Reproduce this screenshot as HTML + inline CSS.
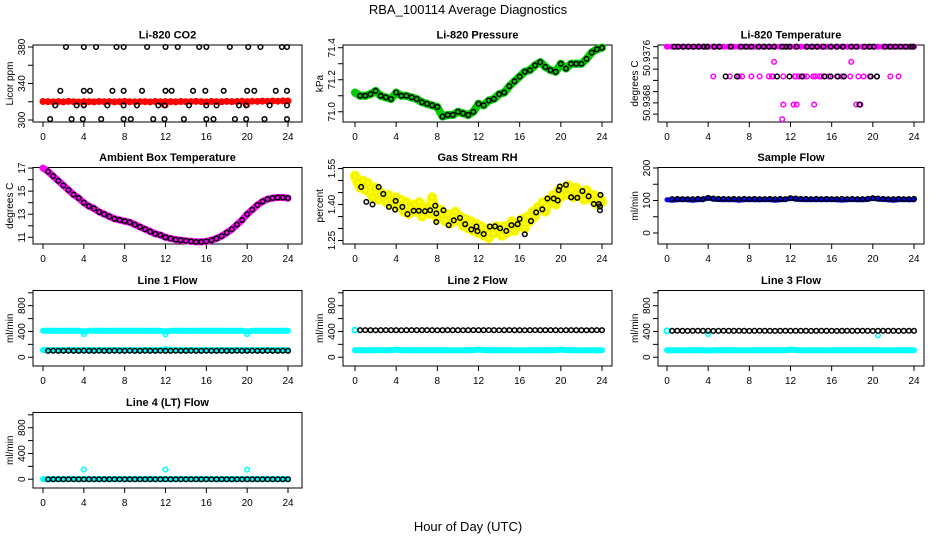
<!DOCTYPE html>
<html><head><meta charset="utf-8"><style>
body{margin:0;background:#fff}
svg{display:block;font-family:"Liberation Sans",sans-serif}
</style></head><body>
<svg id="c" width="936" height="540" viewBox="0 0 936 540">
<text x="468" y="14" text-anchor="middle" font-size="13">RBA_100114  Average Diagnostics</text>
<text x="468" y="531" text-anchor="middle" font-size="13">Hour of Day (UTC)</text>
</svg>
<script>
const H=[0,0.5,1,1.5,2,2.5,3,3.5,4,4.5,5,5.5,6,6.5,7,7.5,8,8.5,9,9.5,10,10.5,11,11.5,12,12.5,13,13.5,14,14.5,15,15.5,16,16.5,17,17.5,18,18.5,19,19.5,20,20.5,21,21.5,22,22.5,23,23.5,24];
const xTicks=[0,4,8,12,16,20,24];
// CO2
const co2Red=[320.3,320.1,319.8,320.2,319.9,320.4,320.0,319.7,320.2,320.1,319.9,320.3,320.0,320.2,319.8,320.1,320.4,320.0,319.9,320.2,320.1,319.8,320.3,320.0,320.2,320.1,319.9,320.3,320.0,320.2,320.4,320.1,319.9,320.3,320.2,320.0,320.4,320.1,320.3,320.5,320.2,320.6,320.4,320.7,320.5,320.8,320.6,321.0,320.8];
const co2RedOutH=[4,12,20];
const co2RedOutV=[316.5,316,316.5];
const co2BlkH=[2.25,4.0,5.2,7.2,7.9,10.2,12.0,13.2,15.3,16.0,18.3,20.1,21.3,23.4,23.9, 1.7,4,4.6,6.8,7.9,9.7,12,12.6,14.7,15.9,17.7,20,20.7,22.8,23.9, 1.2,3.3,4,6.3,7.9,9.2,11.3,11.9,14.3,16,17,19.2,19.9,22.2,23.9, 0.7,2.8,3.9,5.7,7.9,8.6,10.8,11.9,13.8,16,16.7,18.8,19.9,21.7,23.9];
const co2BlkV=[380,380,380,380,380,380,380,380,380,380,380,380,380,380,380, 332,332,332,332,332,332,332,332,332,332,332,332,332,332,332, 316,316,316,316,316,316,316,316,316,316,316,316,316,316,316, 301,301,301,301,301,301,301,301,301,301,301,301,301,301,301];
// Pressure
const pres=[71.12,71.10,71.10,71.11,71.13,71.10,71.09,71.08,71.12,71.10,71.10,71.09,71.08,71.06,71.05,71.04,71.03,70.97,70.98,70.98,71.00,70.99,70.98,71.00,71.05,71.04,71.07,71.08,71.11,71.12,71.16,71.19,71.22,71.25,71.26,71.29,71.31,71.28,71.26,71.25,71.30,71.27,71.30,71.30,71.30,71.33,71.37,71.39,71.40];
// Li-820 temperature
const tTopBlkH=[0.7,1.1,1.6,2.1,2.6,3.1,3.6,3.9,4.6,5.1,6.2,7.2,7.7,8.2,8.9,9.4,9.9,10.4,11.2,11.6,11.9,12.6,13.6,14.1,14.6,15.2,15.9,16.5,17.1,17.9,18.4,19.2,19.7,20.1,21.2,21.7,22.2,22.7,23.2,23.7,23.9];
const tMagH=[4.5,6.1,7.0,7.3,8.2,9.0,9.9,10.2,10.3,11.3,12.4,12.5,12.8,13.3,13.6,14.2,14.4,14.8,15.0,15.7,16.5,17.0,17.8,18.6,19.1,19.7,20.4,21.7,22.5, 10.4,17.9, 11.3,12.3,12.6,14.3,18.4,18.8, 11.2];
const tMagV=[50.93727,50.93727,50.93727,50.93727,50.93727,50.93727,50.93727,50.93727,50.93727,50.93727,50.93727,50.93727,50.93727,50.93727,50.93727,50.93727,50.93727,50.93727,50.93727,50.93727,50.93727,50.93727,50.93727,50.93727,50.93727,50.93727,50.93727,50.93727,50.93727, 50.93753,50.93753, 50.93677,50.93677,50.93677,50.93677,50.93677,50.93677, 50.93651];
const tBlkH=[5.7,6.8,10.7,11.9,13.1,15.3,15.9,16.6,17.2,19.8,20.4,18.7];
const tBlkV=[50.93727,50.93727,50.93727,50.93727,50.93727,50.93727,50.93727,50.93727,50.93727,50.93727,50.93727,50.93677];
// Ambient
const amb=[17,16.7,16.3,15.9,15.5,15.1,14.7,14.4,14.0,13.7,13.5,13.2,13.0,12.8,12.6,12.5,12.4,12.3,12.1,11.9,11.7,11.5,11.3,11.2,11.0,10.9,10.8,10.75,10.7,10.65,10.6,10.6,10.65,10.75,10.9,11.1,11.4,11.7,12.1,12.5,13.0,13.4,13.8,14.1,14.3,14.4,14.45,14.45,14.4];
// Gas RH
const rhYel=[1.52,1.49,1.47,1.50,1.46,1.49,1.45,1.43,1.47,1.42,1.45,1.44,1.41,1.44,1.40,1.42,1.43,1.39,1.42,1.37,1.41,1.36,1.39,1.40,1.37,1.41,1.35,1.38,1.39,1.36,1.43,1.37,1.34,1.38,1.36,1.33,1.36,1.32,1.35,1.37,1.33,1.35,1.31,1.34,1.30,1.33,1.29,1.32,1.28,1.31,1.27,1.30,1.26,1.30,1.28,1.31,1.29,1.27,1.31,1.28,1.30,1.33,1.29,1.32,1.31,1.34,1.30,1.35,1.33,1.37,1.35,1.39,1.38,1.41,1.37,1.42,1.41,1.44,1.40,1.46,1.43,1.47,1.44,1.48,1.46,1.43,1.47,1.44,1.45,1.42,1.46,1.43,1.42,1.44,1.40,1.43,1.41];
const rhYelH=[0,0.25,0.5,0.75,1,1.25,1.5,1.75,2,2.25,2.5,2.75,3,3.25,3.5,3.75,4,4.25,4.5,4.75,5,5.25,5.5,5.75,6,6.25,6.5,6.75,7,7.25,7.5,7.75,8,8.25,8.5,8.75,9,9.25,9.5,9.75,10,10.25,10.5,10.75,11,11.25,11.5,11.75,12,12.25,12.5,12.75,13,13.25,13.5,13.75,14,14.25,14.5,14.75,15,15.25,15.5,15.75,16,16.25,16.5,16.75,17,17.25,17.5,17.75,18,18.25,18.5,18.75,19,19.25,19.5,19.75,20,20.25,20.5,20.75,21,21.25,21.5,21.75,22,22.25,22.5,22.75,23,23.25,23.5,23.75,24];
const rhBlkH=[0.6,1.1,1.7,2.3,2.75,3.3,3.9,3.95,4.6,5.1,5.7,6.2,6.8,7.3,7.8,7.9,7.9,8.6,9.1,9.6,10.2,10.7,11.3,11.8,11.9,12.5,13.1,13.6,14.1,14.7,15.2,15.8,16.0,16.5,17.1,17.6,18.2,18.7,19.3,19.7,19.8,19.9,20.5,21.0,21.6,22.1,22.7,23.2,23.7,23.85,23.8,23.8];
const rhBlkV=[1.473,1.411,1.40,1.473,1.444,1.39,1.379,1.415,1.39,1.36,1.374,1.374,1.372,1.376,1.395,1.327,1.363,1.376,1.314,1.334,1.344,1.318,1.296,1.308,1.289,1.277,1.308,1.309,1.301,1.29,1.314,1.318,1.34,1.276,1.331,1.367,1.38,1.425,1.425,1.417,1.46,1.475,1.482,1.43,1.428,1.456,1.434,1.402,1.402,1.44,1.376,1.392];
// Sample flow
const sampBlue=[102,101,102,103,102,101,102,103,108,104,103,102,103,102,101,102,103,102,102,103,102,101,102,103,107,104,103,102,103,102,103,102,103,102,101,102,103,102,102,103,107,104,103,102,101,102,103,102,102];
const sampBlk=[104,104,105,104,104,104,105,104,108,106,105,105,104,105,104,105,104,105,104,104,105,104,105,104,107,106,105,105,104,105,104,105,104,104,105,104,105,104,104,105,107,106,105,104,104,105,104,104,105];
// Line flows
const l1CyanHi=[410,410,411,410,409,410,411,410,400,410,410,411,410,409,410,411,410,410,410,411,410,409,410,411,400,410,410,411,410,409,410,411,410,410,410,411,410,409,410,411,400,410,410,411,410,409,410,411,410];
const l1CyanLo=[112,112,111,112,112,113,112,111,112,112,111,112,112,113,112,111,112,112,111,112,112,113,112,111,125,112,111,112,112,113,112,111,112,112,111,112,112,113,112,111,112,112,111,112,112,113,112,111,112];
const l1Blk=[100,101,100,100,101,100,100,101,100,100,101,100,100,101,100,100,101,100,100,101,100,100,101,100,100,101,100,100,101,100,100,101,100,100,101,100,100,101,100,100,101,100,100,101,100,100,101,100];
const l1OutH=[4,12,20];
const l1OutV=[360,355,360];
const l2Blk=[420,421,420,419,420,421,420,420,419,420,421,420,420,421,420,419,420,421,420,420,419,420,421,420,420,421,420,419,420,421,420,420,419,420,421,420,420,421,420,419,420,421,420,420,419,420,421,420];
const l2CyanLo=[110,111,110,109,110,111,110,110,118,110,111,110,110,111,110,109,110,111,110,110,109,110,111,110,118,111,110,109,110,111,110,110,109,110,111,110,110,111,110,109,118,111,110,110,109,110,111,110,110];
const l3Blk=[410,411,410,409,410,411,410,410,409,410,411,410,410,411,410,409,410,411,410,410,409,410,411,410,410,411,410,409,410,411,410,410,409,410,411,410,410,411,410,409,410,411,410,410,409,410,411,410];
const l3CyanLo=[110,111,110,109,110,111,110,110,105,110,111,110,110,111,110,109,110,111,110,110,109,110,111,110,118,111,110,109,110,111,110,110,109,110,111,110,110,111,110,109,110,111,110,110,109,110,111,110,110];
const l3OutH=[4,20.5];
const l3OutV=[360,340];
const l4Cyan=[2,1,2,2,1,2,2,1,2,2,1,2,2,1,2,2,1,2,2,1,2,2,1,2,2,1,2,2,1,2,2,1,2,2,1,2,2,1,2,2,1,2,2,1,2,2,1,2,2];
const l4Blk=[0,0,0,0,0,0,0,0,0,0,0,0,0,0,0,0,0,0,0,0,0,0,0,0,0,0,0,0,0,0,0,0,0,0,0,0,0,0,0,0,0,0,0,0,0,0,0,0];
const l4OutH=[4,12,20];
const l4OutV=[150,150,150];

const H2=H.slice(1);
const svg=document.getElementById('c');
const NS='http://www.w3.org/2000/svg';
const COLS=[{l:33,r:302,x0:43,x24:288},{l:343,r:612,x0:355,x24:602},{l:658,r:924,x0:667,x24:914}];
const ROWS=[{t:45,b:122},{t:167.5,b:244},{t:290.5,b:366},{t:412.5,b:488}];
function mk(tag,attrs,parent){const e=document.createElementNS(NS,tag);for(const k in attrs)e.setAttribute(k,attrs[k]);(parent||svg).appendChild(e);return e;}
function panel(name,title,ci,ri,lo,hi,ticks,labels,ytitle){
  const C=COLS[ci],R=ROWS[ri];
  const g=mk('g',{});
  
  
  const xs=h=>C.x0+h*(C.x24-C.x0)/24;
  const ys=v=>R.b-(v-lo)/(hi-lo)*(R.b-R.t);
  const box=mk('rect',{x:C.l,y:R.t,width:C.r-C.l,height:R.b-R.t,fill:'none',stroke:'#000','stroke-width':1},g);
  
  
  const tt=mk('text',{x:(C.l+C.r)/2,y:R.t-6.5,'text-anchor':'middle','font-size':11,'font-weight':'bold'},g);
  tt.textContent=title;
  
  
  // x axis
  const xa=mk('g',{},g);
  
  
  mk('line',{x1:xs(0),x2:xs(24),y1:R.b,y2:R.b,stroke:'#000'},xa);
  xTicks.forEach(h=>{mk('line',{x1:xs(h),x2:xs(h),y1:R.b,y2:R.b+5,stroke:'#000'},xa);
    const t=mk('text',{x:xs(h),y:R.b+18,'text-anchor':'middle','font-size':10},xa);t.textContent=h;
    
    });
  const ya=mk('g',{},g);
  
  
  ticks.forEach(v=>mk('line',{x1:C.l-5,x2:C.l,y1:ys(v),y2:ys(v),stroke:'#000'},ya));
  labels.forEach(v=>{const x=C.l-8,y=ys(v);const t=mk('text',{x:x,y:y,'text-anchor':'middle','font-size':10,transform:`rotate(-90 ${x} ${y})`},ya);t.textContent=v;
    
    });
  const x=C.l-20,y=(R.t+R.b)/2;
  const yt=mk('text',{x:x,y:y,'text-anchor':'middle','font-size':10,transform:`rotate(-90 ${x} ${y})`},g);
  yt.textContent=ytitle;
  
  
  return {g,xs,ys};
}
function pts(P,hs,vs,color,nm,r,sw){
  const g=mk('g',{},P.g);
  
  
  hs.forEach((h,i)=>{mk('circle',{cx:P.xs(h),cy:P.ys(vs[i]),r:r||2.3,fill:'none',stroke:color,'stroke-width':sw||1.5},g);});
}
function band(P,hs,vs,color,nm,w){
  const d=hs.map((h,i)=>(i?'L':'M')+P.xs(h).toFixed(1)+','+P.ys(vs[i]).toFixed(1)).join('');
  const p=mk('path',{d:d,fill:'none',stroke:color,'stroke-width':w,'stroke-linejoin':'round','stroke-linecap':'round'},P.g);
  
  
}
// Panels
let P=panel('co2','Li-820 CO2',0,0,297.8,382.2,[300,320,340,360,380],[300,340,380],'Licor ppm');
band(P,H,co2Red,'#ff0000','co2-red-band',5);pts(P,H,co2Red,'#ff0000','co2-red-points',2.5,2);
pts(P,co2RedOutH,co2RedOutV,'#ff0000','co2-red-outliers');
pts(P,co2BlkH,co2BlkV,'#000','co2-black-points');

P=panel('pressure','Li-820 Pressure',1,0,70.936,71.4171,[71.0,71.1,71.2,71.3,71.4],['71.0','71.2','71.4'],'kPa');
band(P,H,pres,'#00cc00','pressure-green-band',8);pts(P,H,pres,'#00cc00','pressure-green-points',3,2);
pts(P,H.slice(1),pres.slice(1),'#000','pressure-black-points');

P=panel('li-temp','Li-820 Temperature',2,0,50.93646,50.93783,[50.9366,50.9368,50.937,50.9372,50.9374,50.9376,50.9378],['50.9368','50.9376'],'degrees C');
band(P,[0,24],[50.9378,50.9378],'#ff00ff','li-temp-magenta-band',5);
pts(P,H,H.map(()=>50.9378),'#ff00ff','li-temp-magenta-top');
pts(P,tMagH,tMagV,'#ff00ff','li-temp-magenta-points');
pts(P,tTopBlkH,tTopBlkH.map(()=>50.9378),'#000','li-temp-black-top');
pts(P,tBlkH,tBlkV,'#000','li-temp-black-points');

P=panel('ambient','Ambient Box Temperature',0,1,10.42,17.05,[11,12,13,14,15,16,17],[11,13,15,17],'degrees C');
band(P,H,amb,'#ff00ff','ambient-magenta-band',7);
pts(P,H2,amb.slice(1),'#000','ambient-black-points');

P=panel('gas-rh','Gas Stream RH',1,1,1.2354,1.5542,[1.25,1.3,1.35,1.4,1.45,1.5,1.55],['1.25','1.40','1.55'],'percent');
band(P,rhYelH,rhYel,'#ffff00','rh-yellow-band',10);
pts(P,rhYelH,rhYel,'#f0f000','rh-yellow-points',3,2);
pts(P,rhBlkH,rhBlkV,'#000','rh-black-points');

P=panel('sample-flow','Sample Flow',2,1,-33.8,201.5,[0,50,100,150,200],[0,100,200],'ml/min');
band(P,H,sampBlue,'#0000ff','sample-blue-band',5);
pts(P,H2,sampBlk.slice(1),'#000','sample-black-points');

const FT=[0,200,400,600,800,1000],FL=[0,400,800];
P=panel('line1','Line 1 Flow',0,2,-136,1036,FT,FL,'ml/min');
band(P,H,l1CyanHi,'#00ffff','line1-cyan-high',6);pts(P,l1OutH,l1OutV,'#00ffff','line1-cyan-outliers');
band(P,H,l1CyanLo,'#00ffff','line1-cyan-low',6);
pts(P,H2,l1Blk,'#000','line1-black-points');

P=panel('line2','Line 2 Flow',1,2,-136,1036,FT,FL,'ml/min');
pts(P,[0],[420],'#00ffff','line2-cyan-start',2.5,2);
band(P,H,l2CyanLo,'#00ffff','line2-cyan-low',6);
pts(P,H2,l2Blk,'#000','line2-black-points');

P=panel('line3','Line 3 Flow',2,2,-136,1036,FT,FL,'ml/min');
pts(P,[0],[410],'#00ffff','line3-cyan-start',2.5,2);
pts(P,l3OutH,l3OutV,'#00ffff','line3-cyan-outliers');
band(P,H,l3CyanLo,'#00ffff','line3-cyan-low',6);
pts(P,H2,l3Blk,'#000','line3-black-points');

P=panel('line4','Line 4 (LT) Flow',0,3,-136,1036,FT,FL,'ml/min');
band(P,H,l4Cyan,'#00ffff','line4-cyan-band',6);
pts(P,l4OutH,l4OutV,'#00ffff','line4-cyan-outliers');
pts(P,H2,l4Blk,'#000','line4-black-points');
</script>
</body></html>
